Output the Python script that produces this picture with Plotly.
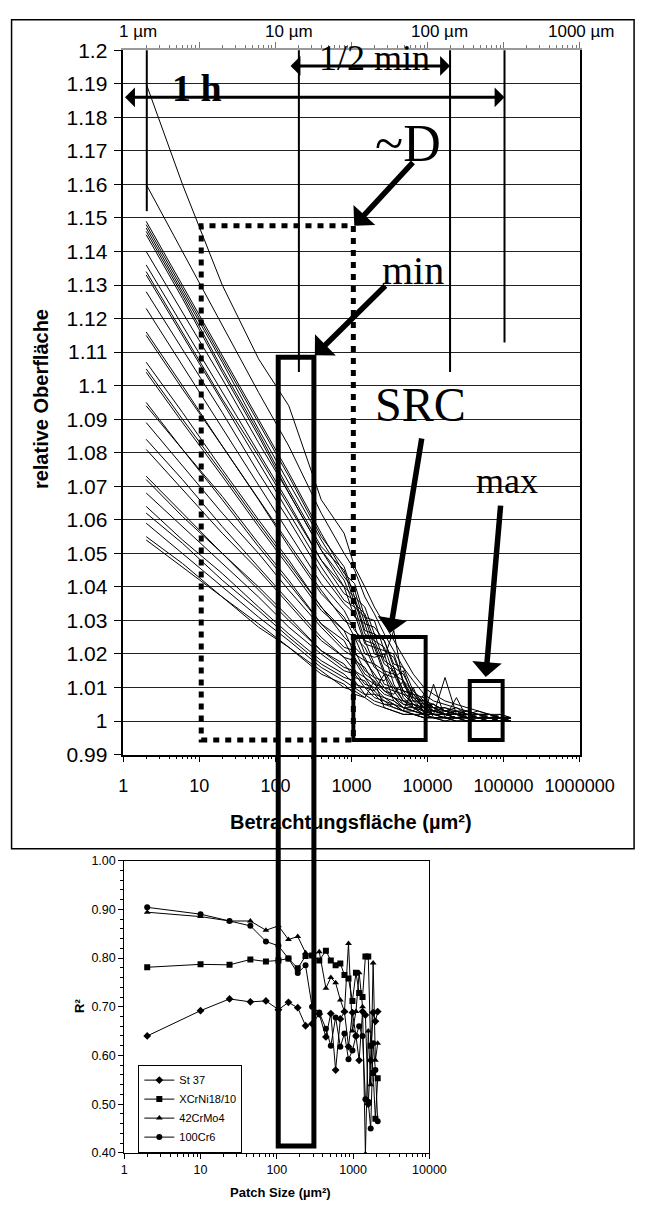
import plotly.graph_objects as go

W, H = 655, 1211

# ---------------- data: upper chart (relative surface vs. observation area) -------------
X_AREA = [2, 6, 20, 60, 150, 400, 800, 1100, 1500, 2000, 2700, 3600, 4800, 6500, 9000,
          12000, 17000, 24000, 33000, 46000, 65000, 90000, 125000]

c01 = [1.190, 1.160, 1.130, 1.108, 1.094, 1.066, 1.056, 1.046, 1.040, 1.034, 1.029, 1.024, 1.019, 1.014, 1.010, 1.008, 1.006, 1.005, 1.004, 1.003, 1.002, 1.002, 1.001]
c02 = [1.160, 1.140, 1.118, 1.098, 1.082, 1.062, 1.050, 1.045, 1.037, 1.032, 1.026, 1.021, 1.016, 1.012, 1.008, 1.006, 1.005, 1.004, 1.003, 1.002, 1.002, 1.001, 1.001]
c03 = [1.149, 1.130, 1.109, 1.090, 1.074, 1.056, 1.044, 1.041, 1.031, 1.030, 1.021, 1.019, 1.012, 1.009, 1.006, 1.005, 1.003, 1.004, 1.002, 1.003, 1.002, 1.001, 1.001]
c04 = [1.148, 1.129, 1.108, 1.089, 1.073, 1.055, 1.046, 1.037, 1.034, 1.026, 1.024, 1.016, 1.014, 1.008, 1.007, 1.004, 1.004, 1.003, 1.003, 1.002, 1.002, 1.001, 1.001]
c05 = [1.147, 1.128, 1.107, 1.087, 1.071, 1.054, 1.043, 1.039, 1.029, 1.028, 1.024, 1.017, 1.016, 1.009, 1.005, 1.005, 1.003, 1.002, 1.003, 1.002, 1.001, 1.002, 1.001]
c06 = [1.146, 1.127, 1.105, 1.086, 1.069, 1.052, 1.045, 1.035, 1.032, 1.024, 1.022, 1.014, 1.012, 1.007, 1.006, 1.004, 1.003, 1.003, 1.002, 1.002, 1.002, 1.001, 1.001]
c07 = [1.145, 1.126, 1.104, 1.085, 1.068, 1.051, 1.040, 1.037, 1.027, 1.026, 1.018, 1.016, 1.009, 1.008, 1.005, 1.004, 1.002, 1.003, 1.002, 1.001, 1.002, 1.001, 1.001]
c08 = [1.140, 1.122, 1.102, 1.083, 1.068, 1.051, 1.042, 1.034, 1.031, 1.022, 1.021, 1.020, 1.012, 1.006, 1.006, 1.003, 1.004, 1.002, 1.002, 1.002, 1.001, 1.001, 1.001]
c09 = [1.136, 1.118, 1.098, 1.080, 1.065, 1.048, 1.038, 1.036, 1.026, 1.024, 1.017, 1.015, 1.009, 1.008, 1.004, 1.005, 1.003, 1.002, 1.002, 1.001, 1.001, 1.001, 1.001]
c10 = [1.134, 1.116, 1.096, 1.079, 1.064, 1.048, 1.040, 1.031, 1.029, 1.020, 1.019, 1.027, 1.011, 1.006, 1.005, 1.003, 1.003, 1.002, 1.002, 1.001, 1.001, 1.001, 1.000]
c11 = [1.133, 1.115, 1.095, 1.077, 1.062, 1.046, 1.036, 1.034, 1.024, 1.023, 1.015, 1.014, 1.008, 1.007, 1.004, 1.004, 1.002, 1.003, 1.001, 1.002, 1.001, 1.001, 1.001]
c12 = [1.128, 1.111, 1.092, 1.074, 1.060, 1.044, 1.035, 1.032, 1.023, 1.022, 1.014, 1.013, 1.015, 1.007, 1.004, 1.003, 1.002, 1.002, 1.002, 1.001, 1.001, 1.001, 1.001]
c13 = [1.123, 1.106, 1.087, 1.070, 1.056, 1.041, 1.033, 1.027, 1.024, 1.017, 1.015, 1.010, 1.009, 1.005, 1.004, 1.003, 1.002, 1.002, 1.001, 1.001, 1.001, 1.001, 1.000]
c14 = [1.116, 1.100, 1.082, 1.066, 1.053, 1.039, 1.030, 1.028, 1.020, 1.019, 1.020, 1.011, 1.006, 1.006, 1.003, 1.003, 1.002, 1.002, 1.001, 1.001, 1.001, 1.001, 1.001]
c15 = [1.115, 1.099, 1.082, 1.066, 1.052, 1.038, 1.031, 1.025, 1.022, 1.016, 1.014, 1.009, 1.008, 1.005, 1.004, 1.002, 1.002, 1.001, 1.002, 1.001, 1.001, 1.000, 1.001]
c16 = [1.107, 1.092, 1.075, 1.060, 1.048, 1.034, 1.027, 1.025, 1.018, 1.017, 1.011, 1.010, 1.006, 1.005, 1.003, 1.003, 1.002, 1.001, 1.001, 1.001, 1.001, 1.001, 1.000]
c17 = [1.105, 1.090, 1.074, 1.059, 1.047, 1.034, 1.025, 1.022, 1.019, 1.013, 1.012, 1.016, 1.007, 1.004, 1.004, 1.002, 1.002, 1.002, 1.001, 1.001, 1.001, 1.001, 1.000]
c18 = [1.104, 1.089, 1.073, 1.058, 1.046, 1.033, 1.027, 1.020, 1.018, 1.014, 1.010, 1.009, 1.005, 1.005, 1.003, 1.002, 1.002, 1.001, 1.001, 1.001, 1.001, 1.000, 1.001]
c19 = [1.095, 1.081, 1.067, 1.053, 1.042, 1.029, 1.022, 1.021, 1.015, 1.013, 1.009, 1.008, 1.012, 1.004, 1.003, 1.002, 1.002, 1.001, 1.001, 1.001, 1.001, 1.000, 1.000]
c20 = [1.094, 1.081, 1.066, 1.052, 1.041, 1.029, 1.024, 1.018, 1.016, 1.011, 1.010, 1.007, 1.006, 1.004, 1.003, 1.002, 1.013, 1.002, 1.001, 1.001, 1.000, 1.001, 1.000]
c21 = [1.089, 1.076, 1.062, 1.050, 1.039, 1.028, 1.021, 1.019, 1.014, 1.012, 1.009, 1.007, 1.005, 1.004, 1.002, 1.002, 1.001, 1.001, 1.001, 1.001, 1.001, 1.000, 1.000]
c22 = [1.084, 1.072, 1.058, 1.046, 1.036, 1.025, 1.019, 1.018, 1.013, 1.011, 1.008, 1.007, 1.004, 1.004, 1.002, 1.011, 1.001, 1.001, 1.001, 1.001, 1.000, 1.000, 1.000]
c23 = [1.081, 1.069, 1.056, 1.045, 1.035, 1.024, 1.019, 1.015, 1.013, 1.009, 1.014, 1.006, 1.004, 1.003, 1.002, 1.002, 1.001, 1.001, 1.001, 1.000, 1.001, 1.000, 1.000]
c24 = [1.073, 1.062, 1.050, 1.040, 1.031, 1.021, 1.016, 1.015, 1.011, 1.010, 1.007, 1.006, 1.004, 1.003, 1.002, 1.002, 1.001, 1.001, 1.001, 1.000, 1.000, 1.000, 1.000]
c25 = [1.072, 1.061, 1.050, 1.039, 1.030, 1.021, 1.017, 1.013, 1.012, 1.008, 1.007, 1.005, 1.004, 1.003, 1.002, 1.001, 1.001, 1.007, 1.001, 1.000, 1.000, 1.000, 1.000]
c26 = [1.068, 1.058, 1.047, 1.037, 1.028, 1.020, 1.015, 1.014, 1.010, 1.009, 1.006, 1.005, 1.003, 1.010, 1.002, 1.001, 1.001, 1.001, 1.000, 1.000, 1.000, 1.000, 1.000]
c27 = [1.064, 1.054, 1.044, 1.034, 1.026, 1.018, 1.014, 1.011, 1.010, 1.007, 1.006, 1.004, 1.003, 1.002, 1.002, 1.001, 1.001, 1.001, 1.000, 1.000, 1.000, 1.000, 1.000]
c28 = [1.062, 1.053, 1.042, 1.033, 1.025, 1.017, 1.013, 1.012, 1.008, 1.008, 1.005, 1.005, 1.003, 1.003, 1.008, 1.001, 1.001, 1.000, 1.000, 1.000, 1.000, 1.000, 1.000]
c29 = [1.059, 1.050, 1.040, 1.031, 1.024, 1.016, 1.012, 1.010, 1.008, 1.006, 1.005, 1.004, 1.003, 1.002, 1.001, 1.001, 1.001, 1.000, 1.000, 1.000, 1.000, 1.000, 1.000]
c30 = [1.055, 1.047, 1.037, 1.029, 1.022, 1.015, 1.010, 1.009, 1.007, 1.012, 1.004, 1.003, 1.002, 1.002, 1.001, 1.001, 1.000, 1.001, 1.000, 1.000, 1.000, 1.000, 1.000]
c31 = [1.054, 1.046, 1.037, 1.028, 1.022, 1.014, 1.011, 1.008, 1.007, 1.005, 1.004, 1.003, 1.002, 1.002, 1.001, 1.001, 1.000, 1.000, 1.000, 1.000, 1.000, 1.000, 1.000]

TOP_CURVES = [c01, c02, c03, c04, c05, c06, c07, c08, c09, c10, c11, c12, c13, c14, c15, c16,
              c17, c18, c19, c20, c21, c22, c23, c24, c25, c26, c27, c28, c29, c30, c31]

Y_TICKS_TOP = [0.99, 1.00, 1.01, 1.02, 1.03, 1.04, 1.05, 1.06, 1.07, 1.08, 1.09, 1.10,
               1.11, 1.12, 1.13, 1.14, 1.15, 1.16, 1.17, 1.18, 1.19, 1.20]
Y_LABELS_TOP = ["0.99", "1", "1.01", "1.02", "1.03", "1.04", "1.05", "1.06", "1.07", "1.08",
                "1.09", "1.1", "1.11", "1.12", "1.13", "1.14", "1.15", "1.16", "1.17", "1.18",
                "1.19", "1.2"]
X_TICKS_TOP = [1, 10, 100, 1000, 10000, 100000, 1000000]
X_LABELS_TOP = ["1", "10", "100", "1000", "10000", "100000", "1000000"]
TOP_UM_LABELS = ["1 µm", "10 µm", "100 µm", "1000 µm"]

# ---------------- data: lower chart (R² vs. patch size) -------------
PATCH = [2, 10, 24, 45, 72, 105, 142, 188, 238, 290, 360, 440, 510, 590, 680, 770, 870,
         980, 1090, 1200, 1330, 1450, 1580, 1700, 1830, 1960, 2100]
st37 = [0.640, 0.692, 0.716, 0.710, 0.712, 0.694, 0.709, 0.698, 0.661, 0.665, 0.685, 0.638, 0.686,
        0.570, 0.675, 0.690, 0.618, 0.688, 0.640, 0.590, 0.690, 0.683, 0.500, 0.590, 0.688, 0.670, 0.690]
xcrni = [0.781, 0.787, 0.786, 0.797, 0.793, 0.795, 0.799, 0.779, 0.804, 0.805, 0.795, 0.815, 0.795,
         0.785, 0.789, 0.765, 0.758, 0.712, 0.770, 0.728, 0.720, 0.803, 0.803, 0.620, 0.564, 0.470, 0.553]
crmo = [0.894, 0.885, 0.876, 0.876, 0.857, 0.866, 0.838, 0.844, 0.811, 0.805, 0.813, 0.738, 0.760,
        0.749, 0.714, 0.690, 0.830, 0.650, 0.690, 0.770, 0.700, 0.398, 0.650, 0.540, 0.790, 0.590, 0.625]
cr6 = [0.904, 0.890, 0.876, 0.866, 0.834, 0.825, 0.799, 0.769, 0.785, 0.700, 0.688, 0.655, 0.620,
       0.678, 0.618, 0.645, 0.592, 0.610, 0.640, 0.660, 0.640, 0.510, 0.505, 0.450, 0.625, 0.570, 0.465]
SERIES_NAMES = ["St 37", "XCrNi18/10", "42CrMo4", "100Cr6"]
SERIES_SYMBOLS = ["diamond", "square", "triangle-up", "circle"]
BOTTOM_X_TICKS = [1, 10, 100, 1000, 10000]
BOTTOM_X_LABELS = ["1", "10", "100", "1000", "10000"]

SANS = "Liberation Sans, Arial, sans-serif"
SERIF = "Liberation Serif, Times New Roman, serif"


def px(x):
    return x / W


def py(y):
    return 1 - y / H


fig = go.Figure()

for cv in TOP_CURVES:
    fig.add_trace(go.Scatter(x=X_AREA, y=cv, mode="lines", xaxis="x", yaxis="y",
                             line=dict(color="black", width=1.0), showlegend=False,
                             hoverinfo="skip"))
# carrier for the top (length) axis
fig.add_trace(go.Scatter(x=[X_AREA[0]], y=[c01[0]], mode="none", xaxis="x2", yaxis="y",
                         showlegend=False, hoverinfo="skip"))

for name, sym, vals in zip(SERIES_NAMES, SERIES_SYMBOLS, [st37, xcrni, crmo, cr6]):
    fig.add_trace(go.Scatter(x=PATCH, y=vals, mode="lines+markers", name=name,
                             xaxis="x3", yaxis="y3",
                             line=dict(color="black", width=1),
                             marker=dict(symbol=sym, size=6, color="black")))

minor_log = [m * 10 ** d for d in range(0, 6) for m in range(2, 10)]

fig.update_layout(
    width=W, height=H, margin=dict(l=0, r=0, t=0, b=0),
    paper_bgcolor="white", plot_bgcolor="white",
    font=dict(family=SANS, color="black"),
    xaxis=dict(type="log", domain=[px(126), px(612)], range=[0, 6], anchor="y",
               tickmode="array", tickvals=X_TICKS_TOP, ticktext=X_LABELS_TOP,
               tickfont=dict(size=18), ticks="outside", ticklen=6, tickcolor="black",
               ticklabelstandoff=8,
               minor=dict(tickmode="array", tickvals=minor_log, ticks="outside", ticklen=3,
                          tickcolor="black", showgrid=False),
               showline=True, linecolor="black", linewidth=1.5, showgrid=False, zeroline=False),
    xaxis2=dict(type="log", range=[0, 6], overlaying="x", anchor="y", side="top",
                tickmode="array", tickvals=X_TICKS_TOP[1:], showticklabels=False,
                ticks="outside", ticklen=6, tickcolor="#777",
                minor=dict(tickmode="array", tickvals=minor_log, ticks="outside", ticklen=3,
                           tickcolor="#777", showgrid=False),
                showline=True, linecolor="#999", linewidth=2, showgrid=False, zeroline=False),
    yaxis=dict(domain=[py(757), py(39)], range=[0.99, 1.2], anchor="x",
               tickmode="array", tickvals=Y_TICKS_TOP, ticktext=Y_LABELS_TOP,
               tickfont=dict(size=21), ticks="outside", ticklen=8, tickcolor="black",
               ticklabelstandoff=2,
               showline=True, linecolor="black", linewidth=1.5, mirror=True,
               showgrid=True, gridcolor="#222", gridwidth=1, zeroline=False),
    xaxis3=dict(type="log", domain=[px(127), px(452)], range=[0, 4], anchor="y3",
                tickmode="array", tickvals=BOTTOM_X_TICKS, ticktext=BOTTOM_X_LABELS,
                tickfont=dict(size=12.5), ticks="outside", ticklen=5, tickcolor="black",
                minor=dict(tickmode="array", tickvals=[v for v in minor_log if v < 10000],
                           ticks="outside", ticklen=3, tickcolor="black", showgrid=False),
                showline=True, linecolor="black", linewidth=1, mirror=True,
                showgrid=False, zeroline=False),
    yaxis3=dict(domain=[py(1163), py(865)], range=[0.4, 1.0], anchor="x3",
                dtick=0.1, tickformat=".2f", tickfont=dict(size=12.5),
                ticks="outside", ticklen=5, tickcolor="black",
                minor=dict(dtick=0.02, ticks="outside", ticklen=3, tickcolor="black", showgrid=False),
                showline=True, linecolor="black", linewidth=1, mirror=True,
                showgrid=False, zeroline=False),
    legend=dict(x=px(142), y=py(1073), xanchor="left", yanchor="top",
                bordercolor="black", borderwidth=1, bgcolor="white",
                font=dict(size=11, family=SANS), tracegroupgap=0, itemwidth=30),
    showlegend=True,
)

shapes = []
# outer frame of the upper chart
shapes.append(dict(type="rect", xref="paper", yref="paper", x0=px(7), x1=px(670), y0=py(853), y1=py(8),
                   line=dict(color="black", width=1.5)))
# marker lines hanging from the length axis
for xx, yb in [(151, 203), (313, 367), (474, 367), (532, 337)]:
    shapes.append(dict(type="line", xref="paper", yref="paper", x0=px(xx), x1=px(xx),
                       y0=py(39), y1=py(yb), line=dict(color="black", width=2)))
# dotted ~D region
shapes.append(dict(type="rect", xref="paper", yref="paper", x0=px(209), x1=px(371), y0=py(742), y1=py(218),
                   line=dict(color="black", width=5, dash="6px,6px")))
# min box (spans both charts)
shapes.append(dict(type="rect", xref="paper", yref="paper", x0=px(291), x1=px(329), y0=py(1156), y1=py(352),
                   line=dict(color="black", width=5)))
# SRC box
shapes.append(dict(type="rect", xref="paper", yref="paper", x0=px(371), x1=px(448), y0=py(742), y1=py(637),
                   line=dict(color="black", width=4)))
# max box
shapes.append(dict(type="rect", xref="paper", yref="paper", x0=px(495), x1=px(530), y0=py(742), y1=py(682),
                   line=dict(color="black", width=4)))
for s in shapes:
    s["layer"] = "above"
fig.update_layout(shapes=shapes)

ann = []
# top axis labels
for lab, xx in zip(TOP_UM_LABELS, [142, 303, 463, 614]):
    ann.append(dict(text=lab, xref="paper", yref="paper", x=px(xx), y=py(20), showarrow=False,
                    xanchor="center", yanchor="middle", font=dict(size=17, family=SANS)))
# axis titles
ann.append(dict(text="<b>Betrachtungsfläche (µm²)</b>", xref="paper", yref="paper", x=px(369), y=py(826),
                showarrow=False, xanchor="center", yanchor="middle", font=dict(size=20, family=SANS)))
ann.append(dict(text="<b>relative Oberfläche</b>", xref="paper", yref="paper", x=px(39), y=py(395),
                showarrow=False, xanchor="center", yanchor="middle", textangle=-90,
                font=dict(size=20, family=SANS)))
ann.append(dict(text="<b>Patch Size (µm²)</b>", xref="paper", yref="paper", x=px(293), y=py(1203),
                showarrow=False, xanchor="center", yanchor="middle", font=dict(size=13, family=SANS)))
ann.append(dict(text="<b>R²</b>", xref="paper", yref="paper", x=px(80), y=py(1013),
                showarrow=False, xanchor="center", yanchor="middle", textangle=-90,
                font=dict(size=13, family=SANS)))
# serif callout texts
for txt, xx, yy, sz in [("1/2 min", 394, 47, 36), ("<b>1 h</b>", 205, 77, 38), ("~D", 429, 134, 52),
                        ("min", 435, 263, 40), ("SRC", 443, 400, 48), ("max", 535, 478, 36)]:
    ann.append(dict(text=txt, xref="paper", yref="paper", x=px(xx), y=py(yy), showarrow=False,
                    xanchor="center", yanchor="middle", font=dict(size=sz, family=SERIF)))
# thick pointer arrows (tip, tail)
for (tx, ty), (sx, sy) in [((372, 218), (432, 153)), ((330, 350), (402, 279)),
                           ((410, 633), (442, 437)), ((512, 678), (527, 505))]:
    ann.append(dict(text="", xref="paper", yref="paper", x=px(tx), y=py(ty), axref="pixel", ayref="pixel",
                    ax=sx - tx, ay=sy - ty, showarrow=True, arrowhead=1, arrowsize=0.9, arrowwidth=5.5,
                    arrowcolor="black", standoff=0, startstandoff=0))
# double-headed span arrows
for (x1, x0, yy) in [(474, 313, 55), (532, 151, 87)]:
    ann.append(dict(text="", xref="paper", yref="paper", x=px(x1), y=py(yy), axref="pixel", ayref="pixel",
                    ax=x0 - x1, ay=0, showarrow=True, arrowhead=1, startarrowhead=1, arrowside="end+start",
                    arrowsize=1.1, startarrowsize=1.1, arrowwidth=3, arrowcolor="black",
                    standoff=0, startstandoff=0))
fig.update_layout(annotations=ann)

fig.write_html("out.html")
